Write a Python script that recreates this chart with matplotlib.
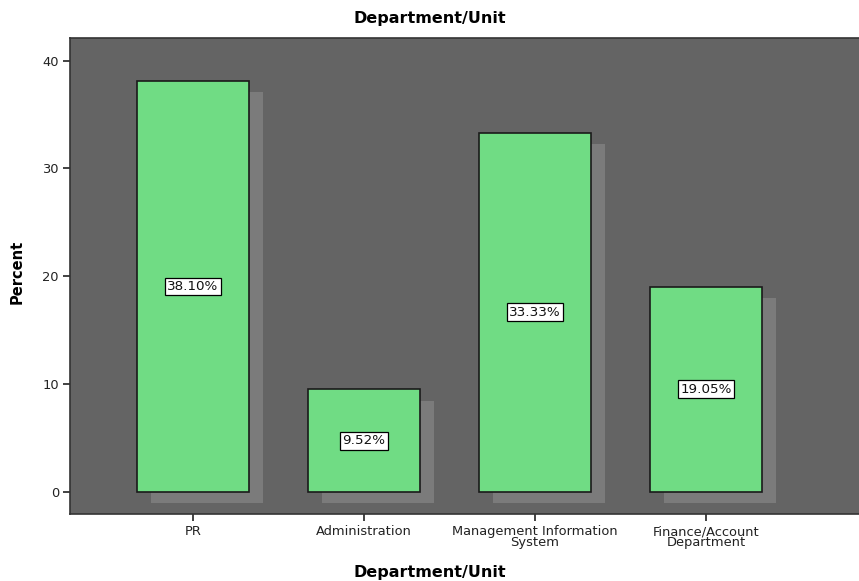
import matplotlib.pyplot as plt
import numpy as np

plt.rcParams['font.family'] = ['DejaVu Sans']

# カテゴリと割合
departments = ['PR', 'Administration', 'Management Information\nSystem',
               'Finance/Account\nDepartment']
percent = [38.10, 9.52, 33.33, 19.05]
yticks = [0, 10, 20, 30, 40]

BG = '#646464'
BAR = '#70dc84'
SHADOW = '#7b7b7b'

fig = plt.figure(figsize=(8.59, 5.81), dpi=100)
ax = fig.add_axes([70 / 859, 67 / 581, 792 / 859, 476 / 581])
ax.set_facecolor(BG)

x = np.arange(len(departments))
width = 0.66

# 影
ax.bar(x + 0.082, percent, width, bottom=-1.05, color=SHADOW, linewidth=0, zorder=2)
# 本体
bars = ax.bar(x, percent, width, color=BAR, edgecolor='#1a1a1a', linewidth=1.2, zorder=3)

for xi, v in zip(x, percent):
    ax.text(xi, v / 2, '%.2f%%' % v, ha='center', va='center', fontsize=9.7,
            color='#111111', zorder=4,
            bbox=dict(boxstyle='square,pad=0.18', facecolor='white',
                      edgecolor='black', linewidth=0.9))

ax.set_xlim(-0.719, 3.912)
ax.set_ylim(-2.04, 42.1)
ax.set_xticks(x)
ax.set_xticklabels(departments, fontsize=9.4, linespacing=0.78)
ax.set_yticks(yticks)
ax.tick_params(axis='both', direction='out', length=5, width=1.2, color='#222222',
               labelsize=9.4, labelcolor='#222222', pad=3)

for s in ax.spines.values():
    s.set_color('#333333')
    s.set_linewidth(1.2)

fig.text(0.5, 1 - 19 / 581, 'Department/Unit', ha='center', va='center',
         fontsize=11.5, fontweight='bold')
fig.text(0.5, 1 - 572 / 581, 'Department/Unit', ha='center', va='center',
         fontsize=11.5, fontweight='bold')
fig.text(17 / 859, 1 - 272 / 581, 'Percent', ha='center', va='center',
         rotation=90, fontsize=10.5, fontweight='bold')

fig.savefig('out.png', dpi=100)
